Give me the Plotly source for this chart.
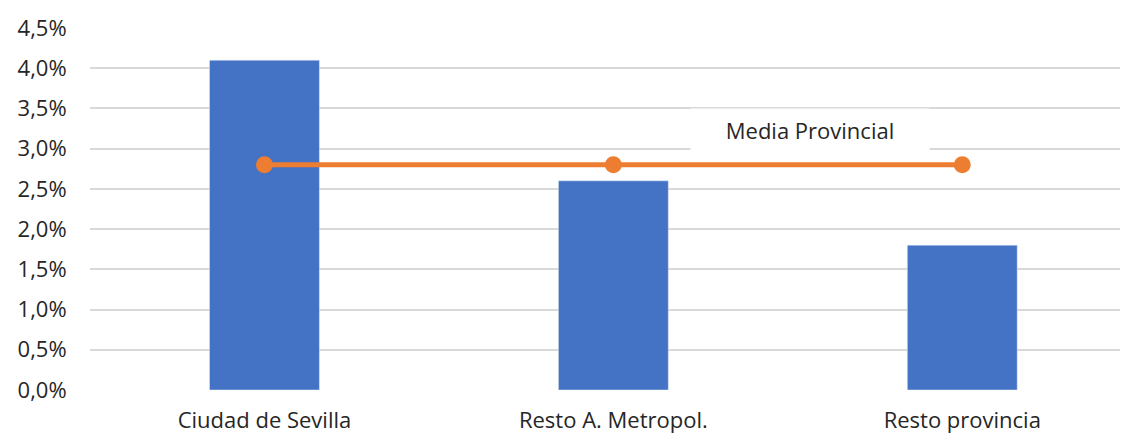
import plotly.graph_objects as go

categorias = ["Ciudad de Sevilla", "Resto A. Metropol.", "Resto provincia"]
valores = [0.041, 0.026, 0.018]
media_provincial = [0.028, 0.028, 0.028]
etiqueta_media = "Media Provincial"

color_barra = "#4472C4"
color_linea = "#ED7D31"
text_color = "#262626"
fuente = "'Open Sans', sans-serif"

fig = go.Figure()

# Barras por zona
fig.add_trace(go.Bar(
    x=categorias, y=valores,
    marker_color=color_barra, width=0.315,
    showlegend=False
))

# Línea de la media provincial
fig.add_trace(go.Scatter(
    x=categorias, y=media_provincial,
    mode="lines+markers",
    line=dict(color=color_linea, width=5),
    marker=dict(color=color_linea, size=17),
    showlegend=False
))

fig.add_annotation(
    x=1.563, y=0.0323, text=etiqueta_media, showarrow=False,
    font=dict(size=22, color=text_color, family=fuente),
    bgcolor="white", width=236, height=40
)

fig.update_layout(
    width=1120, height=426,
    plot_bgcolor="white", paper_bgcolor="white",
    margin=dict(l=82, r=0, t=20, b=44),
    separators=",.",
    font=dict(family=fuente, color=text_color, size=22),
    xaxis=dict(
        range=[-0.5, 2.475],
        showgrid=False, zeroline=False, showline=False,
        tickfont=dict(size=22, color=text_color),
        ticks="outside", ticklen=11, tickcolor="white",
    ),
    yaxis=dict(
        range=[0, 0.045], dtick=0.005, tickformat=".1%",
        showgrid=True, gridcolor="#d9d9d9", gridwidth=1.5,
        zeroline=False, showline=False,
        tickfont=dict(size=22, color=text_color),
        ticks="outside", ticklen=18, tickcolor="white",
    ),
)

fig.write_html("out.html")
